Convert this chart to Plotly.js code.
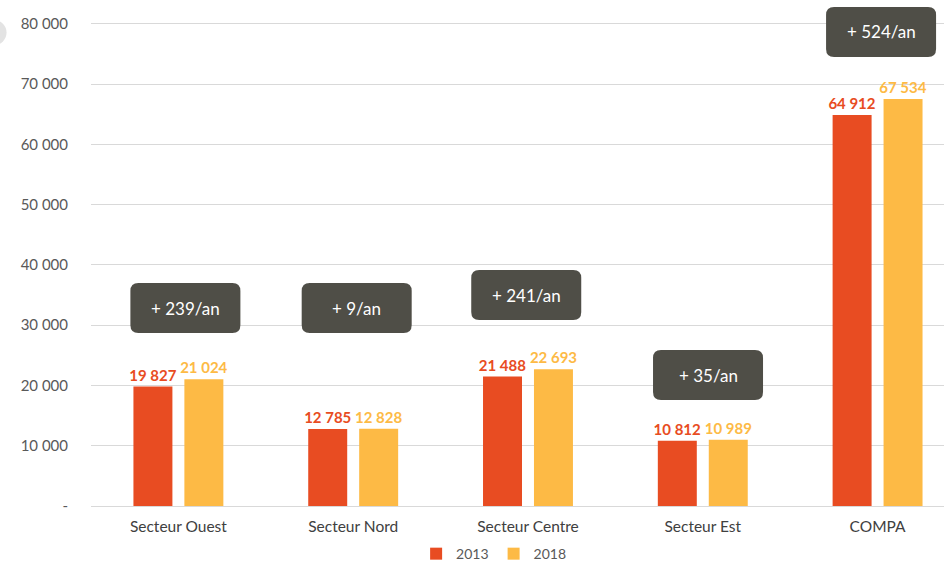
<!DOCTYPE html>
<html>
<head>
<meta charset="utf-8">
<script src="https://cdn.plot.ly/plotly-3.0.1.min.js"></script>
<style>html,body{margin:0;padding:0;background:#fff;}#chart{width:944px;height:566px;}</style>
</head>
<body>
<div id="chart"></div>
<script>
const categories = ["Secteur Ouest", "Secteur Nord", "Secteur Centre", "Secteur Est", "COMPA"];
const values2013 = [19827, 12785, 21488, 10812, 64912];
const values2018 = [21024, 12828, 22693, 10989, 67534];
const growthLabels = ["+ 239/an", "+ 9/an", "+ 241/an", "+ 35/an", "+ 524/an"];
const tickValues = [0, 10000, 20000, 30000, 40000, 50000, 60000, 70000, 80000];
const tickLabels = ["-", "10 000", "20 000", "30 000", "40 000", "50 000", "60 000", "70 000", "80 000"];

// annotation box anchor positions (layout only)
const boxX = [0.04, 1.02, 1.99, 3.03, 4.02];
const boxY = [32860, 32860, 35020, 21740, 78670];

const col2013 = "#E84C22", col2018 = "#FDBA45";
const font = "Lato, 'Open Sans', sans-serif";

const traces = [
  {type: "bar", name: "2013", x: categories.map((c, i) => i), y: values2013,
   marker: {color: col2013}, texttemplate: "%{y:,}", textposition: "outside",
   textfont: {color: col2013, size: 15, family: font, weight: "bold"},
   constraintext: "none", cliponaxis: false, hoverinfo: "y"},
  {type: "bar", name: "2018", x: categories.map((c, i) => i), y: values2018,
   marker: {color: col2018}, texttemplate: "%{y:,}", textposition: "outside",
   textfont: {color: col2018, size: 15, family: font, weight: "bold"},
   constraintext: "none", cliponaxis: false, hoverinfo: "y"}
];

const rr = "M -47,-25 L 47,-25 Q 55,-25 55,-17 L 55,17 Q 55,25 47,25 L -47,25 Q -55,25 -55,17 L -55,-17 Q -55,-25 -47,-25 Z";
const shapes = boxX.map((bx, i) => ({
  type: "path", xref: "x", yref: "y", xsizemode: "pixel", ysizemode: "pixel",
  xanchor: bx, yanchor: boxY[i], path: rr,
  fillcolor: "#4F4E47", line: {width: 0}, layer: "above"
}));
shapes.push({type: "circle", xref: "paper", yref: "paper", x0: -0.128, x1: -0.099, y0: 0.92, y1: 0.97,
  fillcolor: "#e3e3e3", line: {width: 0}, layer: "below"});

const annotations = boxX.map((bx, i) => ({
  x: bx, y: boxY[i], xref: "x", yref: "y", text: growthLabels[i], showarrow: false,
  font: {color: "#ffffff", size: 17, family: font}, xanchor: "center", yanchor: "middle"
}));

const layout = {
  width: 944, height: 566,
  margin: {l: 91, r: 0, t: 5, b: 60, pad: 0, autoexpand: false},
  paper_bgcolor: "#ffffff", plot_bgcolor: "#ffffff",
  separators: ". ",
  barmode: "group", bargap: 0.417, bargroupgap: 0.235,
  showlegend: true,
  legend: {orientation: "h", x: 0.472, xanchor: "center", y: -0.064, yanchor: "top",
    font: {size: 14, color: "#595959", family: font}, itemwidth: 30, tracegroupgap: 0},
  xaxis: {range: [-0.5, 4.38], tickvals: [0, 1, 2, 3, 4], ticktext: categories,
    showgrid: false, zeroline: false, showline: false, ticks: "", ticklabelstandoff: 9,
    tickfont: {size: 15.5, color: "#404040", family: font}, fixedrange: true},
  yaxis: {range: [0, 83150], tickvals: tickValues, ticktext: tickLabels,
    showgrid: true, gridcolor: "#d9d9d9", gridwidth: 1, zeroline: true, zerolinecolor: "#d9d9d9",
    showline: false, ticks: "", ticklabelstandoff: 22,
    tickfont: {size: 15, color: "#595959", family: font}, fixedrange: true},
  shapes: shapes,
  annotations: annotations
};

Plotly.newPlot("chart", traces, layout, {displayModeBar: false, staticPlot: true});
</script>
</body>
</html>
